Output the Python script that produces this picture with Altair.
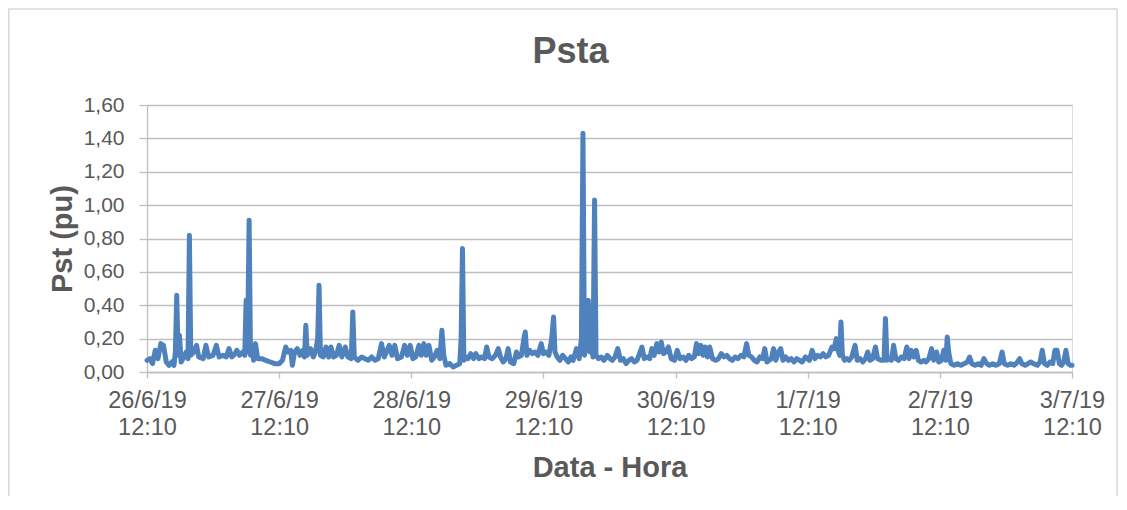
import json
import altair as alt
import pandas as pd

# ---- data (hours after 26/6/19 12:10, Pst in pu) ----
chart_title = "Psta"
day_labels = ["26/6/19", "27/6/19", "28/6/19", "29/6/19", "30/6/19", "1/7/19", "2/7/19", "3/7/19"]
hour_label = "12:10"
y_ticks = [0.0, 0.2, 0.4, 0.6, 0.8, 1.0, 1.2, 1.4, 1.6]

hours = [
    0.0, 0.5, 1.0, 1.5, 2.0, 2.5, 3.0, 3.5, 4.0, 4.5, 4.9, 5.15, 5.4, 5.65, 5.9, 6.2, 6.7, 7.1, 7.45, 7.7, 7.95,
    8.5, 9.0, 9.4, 10.2, 10.7, 11.2, 12.0, 12.6, 13.1, 13.8, 14.4, 14.9, 15.4, 16.0, 16.3, 16.8, 17.4, 17.75,
    18.0, 18.25, 18.55, 18.8, 19.1, 19.35, 19.7, 20.1, 20.8, 21.6, 22.4, 23.2, 24.0, 24.6,
    25.2, 25.6, 26.1, 26.4, 26.8, 27.3, 27.8, 28.3, 28.6, 28.85, 29.1, 29.7, 30.2, 30.6, 31.0, 31.25, 31.5,
    32.0, 32.5, 33.0, 33.4, 33.9, 34.4, 34.9, 35.4, 36.0, 36.5, 37.1, 37.38, 37.65, 38.3, 39.0, 39.6, 40.2,
    40.8, 41.4, 42.0, 42.6, 43.1, 44.0, 44.5, 45.0, 45.5, 46.2, 46.8, 47.3, 47.8, 48.3,
    48.8, 49.4, 49.8, 50.3, 50.7, 51.2, 51.7, 52.2, 52.7, 53.2, 53.56, 53.9, 54.3, 55.0, 55.6, 56.2, 56.8,
    57.05, 57.3, 57.55, 57.9, 58.3, 58.8, 59.3, 59.7, 60.3, 60.8, 61.3, 61.7, 62.1, 62.7, 63.3, 63.8, 64.2,
    64.7, 65.2, 65.6, 66.0, 66.6, 67.1, 67.5, 68.0, 68.4, 68.7, 69.0, 69.5, 70.0, 70.5, 71.0, 71.6, 72.0,
    72.5, 73.0, 73.5, 73.84, 74.1, 74.5, 75.0, 75.5, 76.0, 76.5, 77.0, 77.4, 78.0, 78.5, 78.9, 79.18, 79.45,
    79.8, 80.15, 80.4, 80.7, 81.0, 81.29, 81.55, 82.0, 82.5, 83.0, 83.6, 84.1, 84.5, 85.0, 85.5, 86.0, 86.5,
    87.0, 87.5, 88.0, 88.5, 89.0, 89.9, 90.3, 90.8, 91.3, 91.7, 92.1, 92.6, 93.0, 93.4, 93.8, 94.2, 94.7,
    95.2, 95.8,
    96.3, 96.8, 97.4, 97.9, 98.4, 98.9, 99.4, 99.8, 100.2, 100.6, 101.0, 101.4, 101.8, 102.2, 102.7, 103.3,
    103.8, 104.3, 104.8, 105.3, 105.8, 106.3, 106.8, 107.3, 107.9, 108.4, 108.9, 109.3, 109.8, 110.3, 110.8,
    111.3, 111.8, 112.2, 112.6, 113.0, 113.4, 113.8, 114.2, 114.7, 115.1, 115.5, 116.0, 116.5, 117.0, 117.5,
    118.0, 118.5, 119.0, 119.6,
    120.3, 120.8, 121.3, 121.8, 122.3, 122.8, 123.3, 123.8, 124.4, 124.8, 125.2, 125.5, 125.8, 126.04, 126.3,
    126.7, 127.1, 127.5, 128.0, 128.6, 129.0, 129.5, 130.0, 130.5, 130.9, 131.3, 131.8, 132.3, 132.7, 133.3,
    133.85, 134.12, 134.4, 134.8, 135.2, 135.6, 136.0, 136.5, 137.0, 137.5, 138.0, 138.4, 138.8, 139.3, 139.7,
    140.1, 140.6, 141.1, 141.5, 142.0, 142.5, 142.9, 143.4, 143.8, 144.3, 144.7,
    145.1, 145.34, 145.6, 146.0, 146.6, 147.2, 147.8, 148.4, 149.0, 149.4, 149.8, 150.4, 151.0, 151.5, 152.0,
    152.5, 153.0, 153.6, 154.2, 154.8, 155.3, 155.7, 156.3, 156.9, 157.5, 158.1, 158.5, 158.9, 159.5, 160.0,
    160.5, 161.0, 161.7, 162.2, 162.6, 163.0, 163.5, 164.0, 164.5, 164.9, 165.3, 165.7, 166.1, 166.5, 166.9,
    167.3, 167.7, 168.0,
]

pst = [
    0.07, 0.08, 0.05, 0.13, 0.08, 0.17, 0.16, 0.06, 0.04, 0.06, 0.04, 0.12, 0.46, 0.10, 0.22, 0.06, 0.09, 0.12, 0.08, 0.82, 0.10,
    0.12, 0.16, 0.09, 0.08, 0.16, 0.09, 0.10, 0.16, 0.09, 0.10, 0.09, 0.14, 0.09, 0.11, 0.13, 0.10, 0.12, 0.10,
    0.43, 0.12, 0.91, 0.10, 0.15, 0.07, 0.17, 0.08, 0.08, 0.07, 0.06, 0.05, 0.05, 0.07,
    0.15, 0.12, 0.13, 0.04, 0.12, 0.14, 0.10, 0.13, 0.09, 0.28, 0.10, 0.14, 0.09, 0.12, 0.20, 0.52, 0.10,
    0.09, 0.15, 0.09, 0.15, 0.09, 0.10, 0.16, 0.09, 0.15, 0.09, 0.08, 0.36, 0.09, 0.07, 0.09, 0.08, 0.07,
    0.09, 0.07, 0.08, 0.17, 0.09, 0.16, 0.10, 0.16, 0.08, 0.09, 0.16, 0.10, 0.16, 0.08,
    0.09, 0.16, 0.10, 0.17, 0.10, 0.16, 0.07, 0.09, 0.13, 0.08, 0.25, 0.10, 0.04, 0.05, 0.03, 0.04, 0.05,
    0.20, 0.74, 0.07, 0.09, 0.08, 0.11, 0.08, 0.11, 0.08, 0.09, 0.08, 0.15, 0.09, 0.08, 0.10, 0.14, 0.09,
    0.06, 0.08, 0.14, 0.06, 0.05, 0.12, 0.09, 0.10, 0.19, 0.24, 0.10, 0.13, 0.11, 0.12, 0.10, 0.17, 0.11,
    0.12, 0.10, 0.20, 0.33, 0.12, 0.09, 0.07, 0.10, 0.08, 0.06, 0.09, 0.07, 0.14, 0.08, 0.20, 1.43, 0.10,
    0.20, 0.43, 0.12, 0.18, 0.09, 1.03, 0.10, 0.08, 0.09, 0.07, 0.10, 0.08, 0.07, 0.09, 0.14, 0.07, 0.08,
    0.05, 0.07, 0.08, 0.06, 0.07, 0.15, 0.08, 0.09, 0.08, 0.14, 0.10, 0.17, 0.12, 0.18, 0.11, 0.12, 0.15,
    0.08, 0.07,
    0.13, 0.08, 0.09, 0.07, 0.10, 0.08, 0.09, 0.17, 0.11, 0.16, 0.10, 0.15, 0.09, 0.15, 0.08, 0.07,
    0.08, 0.11, 0.09, 0.10, 0.08, 0.07, 0.09, 0.08, 0.10, 0.09, 0.17, 0.10, 0.09, 0.07, 0.06,
    0.09, 0.08, 0.14, 0.06, 0.07, 0.08, 0.14, 0.07, 0.12, 0.14, 0.07, 0.09, 0.07, 0.08, 0.06,
    0.08, 0.07, 0.06, 0.09,
    0.07, 0.13, 0.08, 0.10, 0.09, 0.11, 0.09, 0.10, 0.15, 0.14, 0.20, 0.13, 0.10, 0.30, 0.10,
    0.07, 0.08, 0.07, 0.09, 0.16, 0.07, 0.08, 0.06, 0.08, 0.12, 0.07, 0.08, 0.15, 0.08, 0.07,
    0.07, 0.32, 0.07, 0.08, 0.07, 0.16, 0.08, 0.07, 0.09, 0.08, 0.15, 0.08, 0.13, 0.09, 0.13,
    0.07, 0.06, 0.07, 0.06, 0.08, 0.14, 0.07, 0.12, 0.06, 0.07, 0.13,
    0.07, 0.21, 0.12, 0.05, 0.04, 0.05, 0.04, 0.05, 0.06, 0.09, 0.05, 0.04, 0.05, 0.04, 0.08,
    0.05, 0.04, 0.05, 0.04, 0.05, 0.12, 0.05, 0.04, 0.05, 0.04, 0.06, 0.08, 0.05, 0.04, 0.05,
    0.06, 0.05, 0.04, 0.06, 0.13, 0.05, 0.04, 0.06, 0.05, 0.13, 0.13, 0.05, 0.04, 0.06, 0.13,
    0.05, 0.04, 0.04,
]

START_MS = pd.Timestamp("2019-06-26T12:10:00Z").value // 10**6
HOUR_MS = 3600 * 1000
DAY_MS = 24 * HOUR_MS

df = pd.DataFrame({"t": [START_MS + int(round(h * HOUR_MS)) for h in hours], "pst": pst})
tick_ms = [START_MS + d * DAY_MS for d in range(len(day_labels))]

TEXT = "#595959"
GRID = "#bfbfbf"
FONT = "Liberation Sans"

x_label_expr = (
    "[" + json.dumps(day_labels) + f"[round((datum.value - {START_MS}) / {DAY_MS})], '{hour_label}']"
)

line = alt.Chart(df).mark_line(
    color="#4f81bd", strokeWidth=5, strokeCap="round", strokeJoin="round"
).encode(
    x=alt.X(
        "t:T",
        scale=alt.Scale(type="utc", domain=[tick_ms[0], tick_ms[-1]]),
        axis=alt.Axis(
            values=tick_ms,
            labelExpr=x_label_expr,
            grid=False,
            domain=True,
            domainColor=GRID,
            domainWidth=1.3,
            ticks=True,
            tickColor=GRID,
            tickWidth=1.3,
            tickSize=6,
            labelFont=FONT,
            labelFontSize=23.5,
            labelColor=TEXT,
            labelBaseline="alphabetic",
            labelLineHeight=27.3,
            labelPadding=29.7,
            labelAlign="center",
            labelOverlap=False,
            labelFlush=False,
            title="Data - Hora",
            titleFont=FONT,
            titleFontSize=29,
            titleFontWeight="bold",
            titleColor=TEXT,
            titleBaseline="alphabetic",
            titleAlign="center",
            titleX=462.5,
            titleY=104.5,
        ),
    ),
    y=alt.Y(
        "pst:Q",
        scale=alt.Scale(domain=[0, 1.6], nice=False, zero=True),
        axis=alt.Axis(
            values=y_ticks,
            labelExpr="replace(format(datum.value, '.2f'), '.', ',')",
            grid=True,
            gridColor=GRID,
            gridWidth=1.3,
            domain=True,
            domainColor=GRID,
            domainWidth=1.3,
            ticks=True,
            tickColor=GRID,
            tickWidth=1.3,
            tickSize=8,
            labelFont=FONT,
            labelFontSize=21,
            labelColor=TEXT,
            labelPadding=15,
            title="Pst (pu)",
            titleFont=FONT,
            titleFontSize=29,
            titleFontWeight="bold",
            titleColor=TEXT,
            titleAngle=270,
            titleBaseline="middle",
            titleAlign="center",
            titleX=-85,
            titleY=133.5,
        ),
    ),
)

border = alt.Chart(alt.Data(values=[{}])).mark_rect(
    fillOpacity=0, stroke="#d9d9d9", strokeWidth=1.5
).encode(
    x=alt.value(-138.2), x2=alt.value(970), y=alt.value(-96), y2=alt.value(420)
)

title = alt.Chart(alt.Data(values=[{"label": chart_title}])).mark_text(
    font=FONT, fontSize=36, fontWeight="bold", color=TEXT, align="center", baseline="alphabetic"
).encode(
    text="label:N", x=alt.value(423.5), y=alt.value(-42)
)

chart = alt.layer(border, line, title).properties(
    width=925,
    height=267,
    padding={"left": 139, "top": 97, "right": 47, "bottom": 124},
    autosize=alt.AutoSizeParams(type="none"),
).configure_view(stroke=None).configure(background="white")

chart.save("out.html", embed_options={"renderer": "svg", "actions": False})
